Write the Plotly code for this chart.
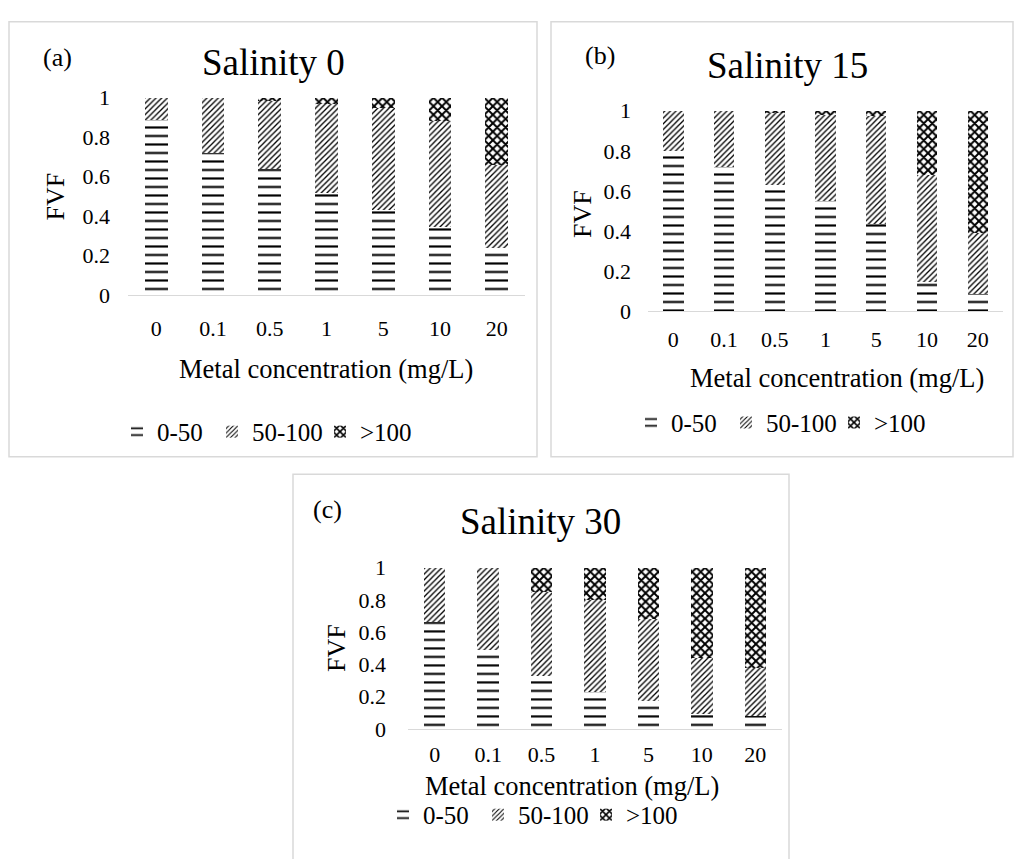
import plotly.graph_objects as go

W, H = 1016, 859

# ---------------- data ----------------
conc = ["0", "0.1", "0.5", "1", "5", "10", "20"]
series_names = ["0-50", "50-100", ">100"]

s0_low = [0.885, 0.72, 0.64, 0.52, 0.43, 0.345, 0.24]
s0_mid = [0.115, 0.28, 0.345, 0.45, 0.52, 0.535, 0.42]
s0_high = [0.0, 0.0, 0.015, 0.03, 0.05, 0.12, 0.34]

s15_low = [0.80, 0.72, 0.63, 0.55, 0.435, 0.145, 0.085]
s15_mid = [0.20, 0.28, 0.36, 0.43, 0.54, 0.535, 0.305]
s15_high = [0.0, 0.0, 0.01, 0.02, 0.025, 0.32, 0.61]

s30_low = [0.66, 0.49, 0.33, 0.23, 0.17, 0.09, 0.08]
s30_mid = [0.34, 0.51, 0.52, 0.57, 0.51, 0.35, 0.30]
s30_high = [0.0, 0.0, 0.15, 0.20, 0.32, 0.56, 0.62]

y_ticks = [0, 0.2, 0.4, 0.6, 0.8, 1]
panel_titles = ["Salinity 0", "Salinity 15", "Salinity 30"]
panel_tags = ["(a)", "(b)", "(c)"]
x_title = "Metal concentration (mg/L)"
y_title = "FVF"

# ---------------- styling ----------------
FONT = "Liberation Serif"
GRID = "#d9d9d9"


def px(x):
    return x / W


def py(y):
    return 1 - y / H


patterns = {
    "0-50": dict(shape="-", size=8.5, solidity=0.25),
    "50-100": dict(shape="/", size=4, solidity=0.33),
    ">100": dict(shape="x", size=6, solidity=0.55),
}
legend_widths = {"0-50": 50, "50-100": 63, ">100": 50}

# pixel geometry of each panel
panels = [
    dict(data=[s0_low, s0_mid, s0_high], box=(9, 10, 537, 458),
         plot=(128, 88.3, 525, 291.7), title=(273.5, 52), tag=(57, 47),
         ytitle=(55, 190), xtitle=(326, 368), legend=(117, 432.5),
         xstand=13, ystand=17),
    dict(data=[s15_low, s15_mid, s15_high], box=(551, 10, 1013, 458),
         plot=(648, 101.7, 1003, 308), title=(787.5, 55), tag=(600, 45),
         ytitle=(583, 208), xtitle=(837, 377), legend=(631, 423),
         xstand=9, ystand=16),
    dict(data=[s30_low, s30_mid, s30_high], box=(293, 476, 789, 880),
         plot=(408, 572.3, 782, 738.3), title=(540, 525), tag=(327, 512),
         ytitle=(337, 655), xtitle=(571.5, 797), legend=(383, 827),
         xstand=6, ystand=21),
]

fig = go.Figure()
annotations = []
shapes = []
layout_axes = {}

for i, p in enumerate(panels):
    n = i + 1
    xa = "x" if n == 1 else f"x{n}"
    ya = "y" if n == 1 else f"y{n}"
    leg = "legend" if n == 1 else f"legend{n}"
    for name, vals in zip(series_names, p["data"]):
        pat = dict(patterns[name])
        pat.update(fgcolor="black", bgcolor="white", fillmode="replace")
        fig.add_trace(go.Bar(
            x=conc, y=vals, name=name, xaxis=xa, yaxis=ya, legend=leg,
            legendwidth=legend_widths[name],
            marker=dict(color="white", line=dict(width=0), pattern=pat),
            hoverinfo="skip",
        ))
    x0, y0, x1, y1 = p["plot"]
    layout_axes["xaxis" if n == 1 else f"xaxis{n}"] = dict(
        domain=[px(x0), px(x1)], anchor=ya, type="category",
        showline=True, linecolor=GRID, linewidth=1, ticks="",
        showgrid=False, zeroline=False, ticklabelstandoff=p["xstand"],
        tickfont=dict(family=FONT, size=22, color="black"),
    )
    layout_axes["yaxis" if n == 1 else f"yaxis{n}"] = dict(
        domain=[py(y1), py(y0)], anchor=xa, range=[0, 1],
        tickvals=y_ticks, showline=False, showgrid=False, zeroline=False,
        ticks="", ticklabelstandoff=p["ystand"],
        tickfont=dict(family=FONT, size=22, color="black"),
    )
    lx, ly = p["legend"]
    layout_axes[leg] = dict(
        orientation="h", x=px(lx), y=py(ly), xanchor="left", yanchor="middle",
        font=dict(family=FONT, size=25, color="black"),
        bgcolor="rgba(0,0,0,0)", borderwidth=0, traceorder="normal",
    )
    bx0, by0, bx1, by1 = p["box"]
    shapes.append(dict(type="rect", xref="paper", yref="paper",
                       x0=px(bx0), x1=px(bx1), y0=py(by1), y1=py(by0),
                       line=dict(color=GRID, width=1.5), fillcolor="rgba(0,0,0,0)",
                       layer="below"))
    tx, ty = p["title"]
    annotations.append(dict(text=panel_titles[i], x=px(tx), y=py(ty), xref="paper",
                            yref="paper", showarrow=False, xanchor="center",
                            yanchor="middle",
                            font=dict(family=FONT, size=37, color="black")))
    gx, gy = p["tag"]
    annotations.append(dict(text=panel_tags[i], x=px(gx), y=py(gy), xref="paper",
                            yref="paper", showarrow=False, xanchor="center",
                            yanchor="middle",
                            font=dict(family=FONT, size=26, color="black")))
    fx, fy = p["ytitle"]
    annotations.append(dict(text=y_title, x=px(fx), y=py(fy), xref="paper",
                            yref="paper", showarrow=False, xanchor="center",
                            yanchor="middle", textangle=-90,
                            font=dict(family=FONT, size=26, color="black")))
    ax_, ay_ = p["xtitle"]
    annotations.append(dict(text=x_title, x=px(ax_), y=py(ay_), xref="paper",
                            yref="paper", showarrow=False, xanchor="center",
                            yanchor="middle",
                            font=dict(family=FONT, size=26.5, color="black")))

fig.update_layout(
    width=W, height=H, margin=dict(l=0, r=0, t=0, b=0),
    paper_bgcolor="white", plot_bgcolor="white",
    barmode="stack", bargap=0.6,
    annotations=annotations, shapes=shapes,
    font=dict(family=FONT, color="black"),
    **layout_axes,
)

fig.write_html(
    "out.html",
    config={"displayModeBar": False, "staticPlot": True},
    post_script="document.body.style.margin='0';document.body.style.overflow='hidden';",
)
